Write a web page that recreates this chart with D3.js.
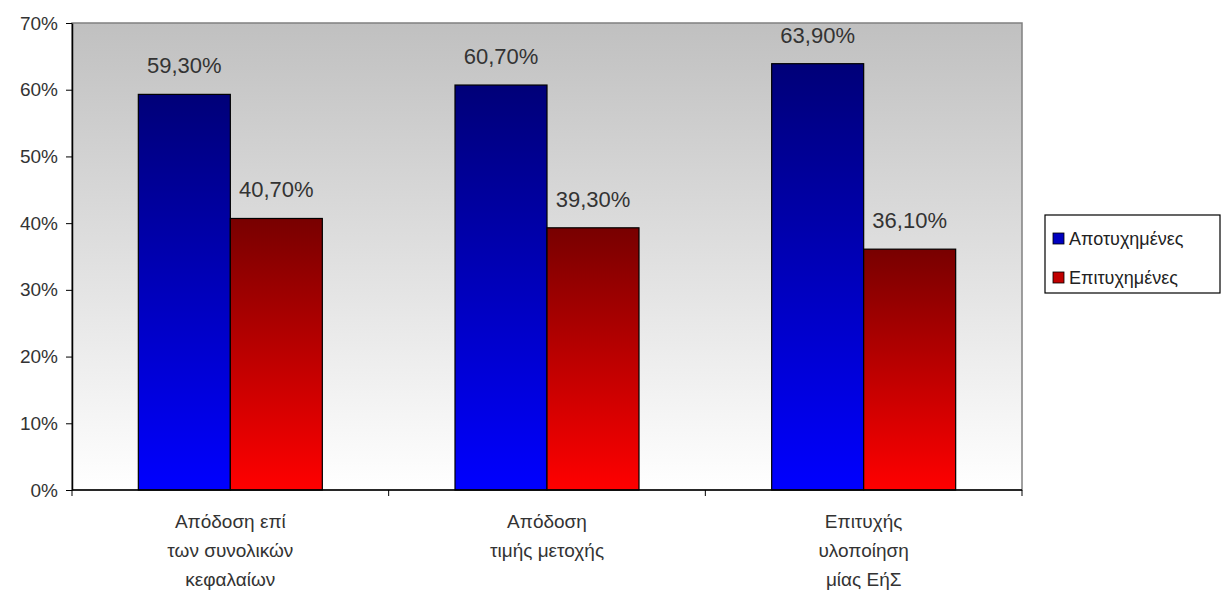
<!DOCTYPE html>
<html>
<head>
<meta charset="utf-8">
<script src="https://cdn.jsdelivr.net/npm/d3@7"></script>
<style>
  body { margin: 0; background: #fff; }
  text { font-family: "Liberation Sans", Arial, sans-serif; }
</style>
</head>
<body>
<div id="chart"></div>
<script>
// --- Données ---
const categories = [
  ["Απόδοση επί", "των συνολικών", "κεφαλαίων"],
  ["Απόδοση", "τιμής μετοχής"],
  ["Επιτυχής", "υλοποίηση", "μίας ΕήΣ"]
];
const seriesNames = ["Αποτυχημένες", "Επιτυχημένες"];
const failed = [59.3, 60.7, 63.9];
const succeeded = [40.7, 39.3, 36.1];
const yTicks = [0, 10, 20, 30, 40, 50, 60, 70];

// --- Configuration ---
const W = 1222, H = 594;
const margin = { top: 23, right: 200, bottom: 104, left: 72 };
const width = W - margin.left - margin.right;
const height = H - margin.top - margin.bottom;

const svg = d3.select("#chart").append("svg")
  .attr("width", W).attr("height", H);

const defs = svg.append("defs");
const bg = defs.append("linearGradient").attr("id", "bg")
  .attr("x1", 0).attr("y1", 0).attr("x2", 0).attr("y2", 1);
bg.append("stop").attr("offset", "0%").attr("stop-color", "#c0c0c0");
bg.append("stop").attr("offset", "100%").attr("stop-color", "#ffffff");

const gradColors = [["#000078", "#0000ff"], ["#780000", "#ff0000"]];
const legendColors = ["#0000c0", "#c00000"];
gradColors.forEach((c, i) => {
  const g = defs.append("linearGradient").attr("id", "bar" + i)
    .attr("x1", 0).attr("y1", 0).attr("x2", 0).attr("y2", 1);
  g.append("stop").attr("offset", "0%").attr("stop-color", c[0]);
  g.append("stop").attr("offset", "100%").attr("stop-color", c[1]);
});

const g = svg.append("g").attr("transform", `translate(${margin.left},${margin.top})`);

// Fond de la zone de tracé
g.append("rect").attr("width", width).attr("height", height)
  .attr("fill", "url(#bg)").attr("stroke", "#808080").attr("stroke-width", 1.5);

const x0 = d3.scaleBand().domain(d3.range(categories.length)).range([0, width]);
const x1 = d3.scaleBand().domain([0, 1]).range([0, 184]);
const y = d3.scaleLinear().domain([0, 70]).range([height, 0]);

// Barres
const data = [failed, succeeded];
categories.forEach((c, ci) => {
  const gx = x0(ci) + x0.bandwidth() / 2 - 92;
  data.forEach((vals, si) => {
    const v = vals[ci];
    g.append("rect")
      .attr("x", gx + x1(si))
      .attr("y", y(v))
      .attr("width", x1.bandwidth())
      .attr("height", y(0) - y(v))
      .attr("fill", `url(#bar${si})`)
      .attr("stroke", "#000").attr("stroke-width", 1.2);
    g.append("text")
      .attr("x", gx + x1(si) + x1.bandwidth() / 2)
      .attr("y", y(v) - 21)
      .attr("text-anchor", "middle")
      .attr("font-size", 22)
      .attr("fill", "#333")
      .text(v.toFixed(2).replace(".", ",") + "%");
  });
});

// Axe Y
const yAxis = g.append("g")
  .call(d3.axisLeft(y).tickValues(yTicks).tickFormat(d => d + "%").tickSize(6).tickSizeOuter(0));
yAxis.select(".domain").attr("stroke", "#000").attr("stroke-width", 1.5);
yAxis.selectAll("text").attr("font-size", 19).attr("fill", "#333").attr("x", -14)
  .style("font-family", "Liberation Sans, Arial, sans-serif");

// Axe X
const xAxis = g.append("g").attr("transform", `translate(0,${height})`);
xAxis.append("line").attr("x1", 0).attr("x2", width).attr("stroke", "#000").attr("stroke-width", 1.5);
d3.range(categories.length + 1).forEach(i => {
  const xx = i < categories.length ? x0(i) : width;
  xAxis.append("line").attr("x1", xx).attr("x2", xx).attr("y1", 0).attr("y2", 6).attr("stroke", "#000");
});
categories.forEach((lines, ci) => {
  const t = xAxis.append("text")
    .attr("x", x0(ci) + x0.bandwidth() / 2)
    .attr("y", 38)
    .attr("text-anchor", "middle")
    .attr("font-size", 19)
    .attr("fill", "#333");
  lines.forEach((l, li) => t.append("tspan")
    .attr("x", x0(ci) + x0.bandwidth() / 2)
    .attr("dy", li === 0 ? 0 : 29)
    .text(l));
});

// Légende
const lg = svg.append("g").attr("transform", "translate(1045,215)");
lg.append("rect").attr("width", 175).attr("height", 78)
  .attr("fill", "#fff").attr("stroke", "#000").attr("stroke-width", 1.2);
seriesNames.forEach((s, i) => {
  const row = lg.append("g").attr("transform", `translate(8,${24 + i * 39})`);
  row.append("rect").attr("x", 0).attr("y", -6).attr("width", 11).attr("height", 11)
    .attr("fill", legendColors[i])
    .attr("stroke", "#000").attr("stroke-width", 0.8);
  row.append("text").attr("x", 16).attr("y", 6).attr("font-size", 18).attr("fill", "#222").text(s);
});
</script>
</body>
</html>
